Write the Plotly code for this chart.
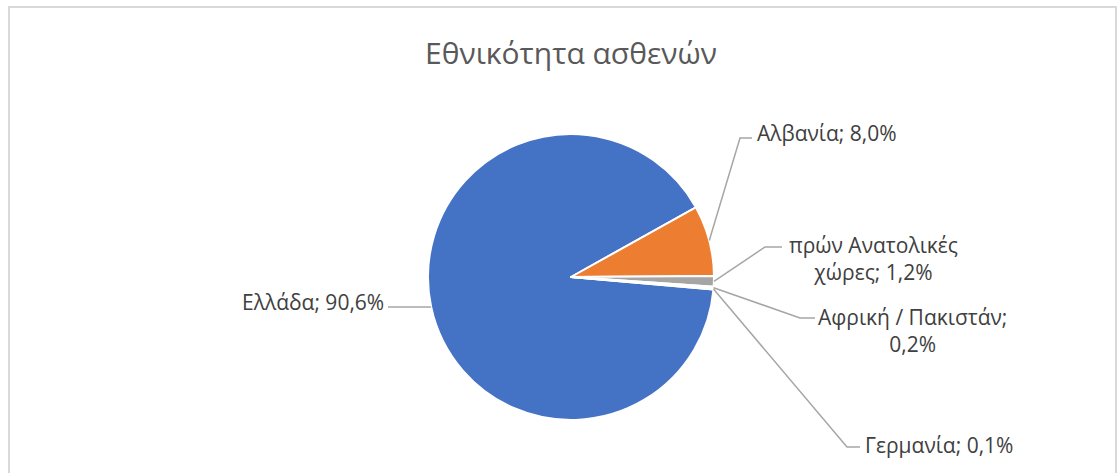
import math
import plotly.graph_objects as go

# Patient nationality shares (%)
categories = ["Ελλάδα", "Αλβανία", "πρών Ανατολικές χώρες", "Αφρική / Πακιστάν", "Γερμανία"]
shares = [90.6, 8.0, 1.2, 0.2, 0.1]
colors = ["#4472C4", "#ED7D31", "#A5A5A5", "#FFC000", "#5B9BD5"]

W, H = 1119, 473
CX, CY, R = 571, 277, 143      # pie centre and radius in pixels
ROTATION = 95                  # first slice starts just below 3 o'clock

fig = go.Figure(go.Pie(
    labels=categories,
    values=shares,
    sort=False,
    direction="clockwise",
    rotation=ROTATION,
    textinfo="none",
    hoverinfo="label+percent",
    marker=dict(colors=colors, line=dict(color="white", width=2)),
    domain=dict(x=[(CX - R) / W, (CX + R) / W],
                y=[1 - (CY + R) / H, 1 - (CY - R) / H]),
    showlegend=False,
))


def px(x, y):
    return x / W, 1 - y / H


# angle (clockwise from 12 o'clock) at the middle of each slice
total = sum(shares)
mid_angles = []
acc = 0.0
for v in shares:
    mid_angles.append(ROTATION + (acc + v / 2) / total * 360)
    acc += v


def edge_point(i):
    a = math.radians(mid_angles[i])
    return CX + R * math.sin(a), CY - R * math.cos(a)


def fmt(v):
    return f"{v:.1f}".replace(".", ",") + "%"


# label placement: (text, x, y, xanchor, elbow, line end)
labels = [
    (f"{categories[0]}; {fmt(shares[0])}", 386, 302, "right", None, (388, 307)),
    (f"{categories[1]}; {fmt(shares[1])}", 755, 133, "left", (740, 138), (752, 138)),
    (f"πρών Ανατολικές<br>χώρες; {fmt(shares[2])}", 873, 258, "center", (765, 247), (782, 247)),
    (f"{categories[3]};<br>{fmt(shares[3])}", 912, 330, "center", (800, 318), (815, 318)),
    (f"{categories[4]}; {fmt(shares[4])}", 863, 445, "left", (847, 447), (860, 447)),
]

annotations = [dict(
    text="Εθνικότητα ασθενών", x=CX / W, y=1 - 52 / H, xref="paper", yref="paper",
    xanchor="center", yanchor="middle", showarrow=False,
    font=dict(family="Open Sans", size=30, color="#595959"),
)]
shapes = []
for i, (text, lx, ly, anchor, elbow, end) in enumerate(labels):
    ax, ay = px(lx, ly)
    annotations.append(dict(
        text=text, x=ax, y=ay, xref="paper", yref="paper",
        xanchor=anchor, yanchor="middle", align="center", showarrow=False,
        font=dict(family="Open Sans", size=21, color="#404040"),
    ))
    pts = [edge_point(i)] + ([elbow] if elbow else []) + [end]
    path = "M " + " L ".join(f"{px(x, y)[0]:.5f},{px(x, y)[1]:.5f}" for x, y in pts)
    shapes.append(dict(type="path", path=path, xref="paper", yref="paper",
                       line=dict(color="#A6A6A6", width=1.5)))

# chart frame (top and left edges visible)
fx0, fy0 = px(9, 7)
fx1, fy1 = px(1116, 480)
shapes.append(dict(type="rect", x0=fx0, y0=fy1, x1=fx1, y1=fy0, xref="paper", yref="paper",
                   line=dict(color="#D9D9D9", width=2), layer="below"))

fig.update_layout(
    width=W, height=H,
    margin=dict(l=0, r=0, t=0, b=0),
    paper_bgcolor="white",
    plot_bgcolor="white",
    annotations=annotations,
    shapes=shapes,
)

fig.write_html("out.html")
